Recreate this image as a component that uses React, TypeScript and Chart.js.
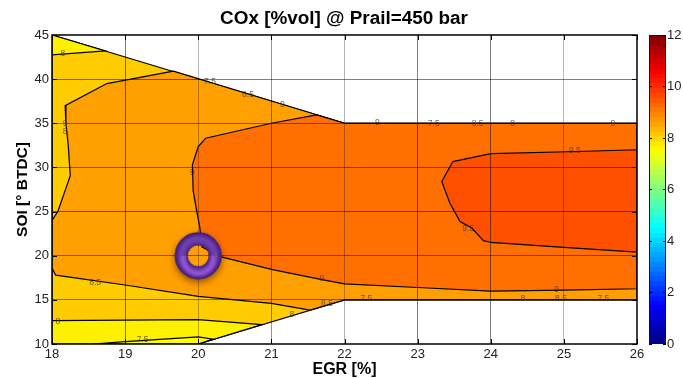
import React, { useEffect, useRef } from "react";
import { Chart, registerables } from "chart.js";

Chart.register(...registerables);

const FONT = "'Liberation Sans', Arial, sans-serif";

const titleText = "COx [%vol] @ Prail=450 bar";
const xTitle = "EGR [%]";
const yTitle = "SOI [° BTDC]";

// Contour regions, painted in this order: [EGR, SOI]
const domainRegion = [[18, 45], [22, 35], [26, 35], [26, 15], [22, 15], [20, 10], [18, 10], [18, 45]];
const yellowTop = [[18, 45], [18.73, 43.19], [18, 42.74], [18, 45]];
const yellowBottom = [[18, 12.65], [19, 12.7], [20, 12.75], [20.87, 12.2], [20, 10], [18, 10], [18, 12.65]];
const lightBottom = [[18.56, 10], [19, 10.26], [20, 10.8], [20.2, 10.55], [20, 10], [18.56, 10]];
const orangeRegion = [
  [19.66, 40.9], [18.75, 39.5], [18.18, 37], [18.19, 35], [18.22, 32.7], [18.25, 29.07], [18.08, 25], [18, 24],
  [18, 18.6], [18.05, 17.8], [19, 16.68], [20, 15.4], [21, 14.6], [21.53, 13.83], [22, 15], [26, 15], [26, 35], [22, 35], [19.66, 40.9],
];
const deepOrangeRegion = [
  [21.62, 35.95], [21, 35], [20.1, 33.3], [20, 32.35], [19.92, 30.3], [19.93, 27.4], [19.98, 25], [20.02, 23.3], [20.05, 21],
  [20.3, 19.9], [21, 18.45], [21.69, 17.3], [22, 16.8], [23, 16.4], [24, 16], [25, 16.1], [26, 16.26], [26, 35], [22, 35], [21.62, 35.95],
];
const redOrangeRegion = [
  [23.48, 30.65], [24, 31.56], [25.18, 31.8], [26, 32], [26, 20.4], [25, 20.95], [24, 21.5], [23.9, 21.7], [23.74, 23.14],
  [23.58, 23.86], [23.44, 25.97], [23.33, 28.4], [23.48, 30.65],
];

const regionList = [domainRegion, yellowTop, yellowBottom, lightBottom, orangeRegion, deepOrangeRegion, redOrangeRegion];
const regionColors = ["#FFCC00", "#FFF000", "#FFF000", "#FFFF00", "#FF9F00", "#FF7000", "#FF5000"];

// Inline contour labels
const labelEgr = [18.15, 20.16, 20.68, 21.15, 18.18, 18.18, 19.92, 18.59, 18.08, 19.24, 21.69, 21.28, 21.76, 22.3, 24.44, 24.96, 25.54, 24.9, 22.45, 23.22, 23.82, 24.3, 25.67, 25.15, 23.69];
const labelSoi = [42.85, 39.7, 38.2, 37.1, 34.9, 34.1, 29.4, 17, 12.5, 10.45, 17.37, 13.3, 14.55, 15.1, 15.1, 15.1, 15.1, 16.1, 35.03, 35, 35, 35, 35, 31.9, 23.1];
const labelText = ["8", "7.5", "8.5", "9", "9", "8", "9", "8.5", "8", "7.5", "9", "8", "8.5", "7.5", "8", "8.5", "7.5", "9", "9", "7.5", "8.5", "8", "9", "9.5", "9.5"];

const markerPoint = [[20, 20]];

const xGridAlpha = [0, 0.5, 0.28, 0.42, 0.3, 0.5, 0.5, 0.28, 0];
const yGridAlpha = [0, 0.45, 0.45, 0.5, 0.45, 0.45, 0.5, 0];

const colorbarRange = [0, 12];

function makeTorus(): HTMLCanvasElement {
  const c = document.createElement("canvas");
  c.width = 70;
  c.height = 70;
  const g = c.getContext("2d")!;
  const cx = 35, cy = 35, R = 23.5, r = 10.5;
  const ring = () => {
    g.beginPath();
    g.arc(cx, cy, R, 0, Math.PI * 2);
    g.arc(cx, cy, r, 0, Math.PI * 2, true);
  };
  g.save();
  g.beginPath();
  g.rect(0, 0, 70, 70);
  g.arc(cx, cy, r, 0, Math.PI * 2, true);
  g.clip();
  g.shadowColor = "rgba(70,30,0,0.6)";
  g.shadowBlur = 7;
  g.shadowOffsetY = 3;
  g.fillStyle = "#5a2f96";
  ring();
  g.fill();
  g.restore();
  const main = g.createRadialGradient(cx, cy, r, cx, cy, R);
  main.addColorStop(0, "#44207f");
  main.addColorStop(0.28, "#6b3aa8");
  main.addColorStop(0.55, "#7142b0");
  main.addColorStop(0.82, "#52288f");
  main.addColorStop(1, "#3a1a70");
  g.fillStyle = main;
  ring();
  g.fill();
  g.save();
  ring();
  g.clip();
  const hi = g.createRadialGradient(cx, cy + 3, r, cx, cy + 3, r + 9);
  hi.addColorStop(0, "rgba(176,100,240,0)");
  hi.addColorStop(0.45, "rgba(176,100,240,0.6)");
  hi.addColorStop(1, "rgba(176,100,240,0)");
  g.fillStyle = hi;
  g.fillRect(cx - R, cy, 2 * R, R + 2);
  g.restore();
  return c;
}

const polygonFill = {
  id: "polygonFill",
  beforeDatasetDraw(chart: any, args: any) {
    const ds = chart.data.datasets[args.index];
    if (!ds.polygon) return;
    const pts = args.meta.data;
    const a = chart.chartArea;
    const ctx = chart.ctx;
    ctx.save();
    ctx.beginPath();
    ctx.rect(a.left, a.top, a.width, a.height);
    ctx.clip();
    ctx.beginPath();
    pts.forEach((p: any, i: number) => (i ? ctx.lineTo(p.x, p.y) : ctx.moveTo(p.x, p.y)));
    ctx.closePath();
    ctx.fillStyle = ds.polygonColor;
    ctx.fill();
    ctx.restore();
  },
};

const overlay = {
  id: "overlay",
  afterDraw(chart: any) {
    const { ctx, chartArea: a, scales } = chart;
    ctx.save();
    // contour labels
    ctx.font = `8.5px ${FONT}`;
    ctx.fillStyle = "rgba(60,50,30,0.75)";
    ctx.textAlign = "center";
    ctx.textBaseline = "middle";
    labelText.forEach((t, i) => {
      ctx.fillText(t, scales.x.getPixelForValue(labelEgr[i]), scales.y.getPixelForValue(labelSoi[i]));
    });
    // inner ticks
    ctx.strokeStyle = "#000";
    ctx.lineWidth = 1;
    ctx.beginPath();
    scales.x.ticks.forEach((t: any) => {
      const x = Math.round(scales.x.getPixelForValue(t.value)) + 0.5;
      ctx.moveTo(x, a.bottom);
      ctx.lineTo(x, a.bottom - 5);
      ctx.moveTo(x, a.top);
      ctx.lineTo(x, a.top + 5);
    });
    scales.y.ticks.forEach((t: any) => {
      const y = Math.round(scales.y.getPixelForValue(t.value)) + 0.5;
      ctx.moveTo(a.left, y);
      ctx.lineTo(a.left + 5, y);
      ctx.moveTo(a.right, y);
      ctx.lineTo(a.right - 5, y);
    });
    ctx.stroke();
    // frame
    ctx.lineWidth = 1.5;
    ctx.strokeRect(a.left, a.top, a.width, a.height);
    // marker
    const meta = chart.getDatasetMeta(chart.data.datasets.length - 1);
    const p = meta.data[0];
    const img = chart.$torus;
    if (img && p) ctx.drawImage(img, p.x - 35, p.y - 35);
    ctx.restore();
  },
};

const barFrame = {
  id: "barFrame",
  afterDraw(chart: any) {
    const { ctx, chartArea: a } = chart;
    ctx.save();
    ctx.strokeStyle = "#111";
    ctx.lineWidth = 1;
    ctx.strokeRect(a.left + 0.5, a.top + 0.5, a.width - 1, a.height - 1);
    ctx.restore();
  },
};

function jetGradient(ctx: CanvasRenderingContext2D, top: number, bottom: number) {
  const grad = ctx.createLinearGradient(0, bottom, 0, top);
  const clip = (v: number) => Math.round(255 * Math.max(0, Math.min(1, v)));
  const levels = 64;
  for (let i = 0; i < levels; i++) {
    const t = (i + 0.5) / levels;
    const col = `rgb(${clip(1.5 - Math.abs(4 * t - 3))},${clip(1.5 - Math.abs(4 * t - 2))},${clip(1.5 - Math.abs(4 * t - 1))})`;
    grad.addColorStop(i / levels, col);
    grad.addColorStop((i + 1) / levels, col);
  }
  return grad;
}

export default function App() {
  const mainRef = useRef<HTMLCanvasElement>(null);
  const barRef = useRef<HTMLCanvasElement>(null);

  useEffect(() => {
    const n = regionList.length;
    const regionSets = regionList.map((pts, i) => ({
      type: "scatter" as const,
      data: pts.map(([x, y]) => ({ x, y })),
      showLine: true,
      polygon: true,
      polygonColor: regionColors[i],
      borderColor: "#000",
      borderWidth: 1.2,
      tension: 0,
      pointRadius: 0,
      fill: false,
      order: n - i + 1,
    }));
    const main = new Chart(mainRef.current!, {
      type: "scatter",
      data: {
        datasets: [
          ...regionSets,
          {
            data: markerPoint.map(([x, y]) => ({ x, y })),
            pointRadius: 0,
            showLine: false,
            order: 0,
          },
        ] as any,
      },
      options: {
        responsive: false,
        animation: false,
        layout: { padding: { left: 5, right: 0, top: 0, bottom: 0 } },
        plugins: {
          legend: { display: false },
          tooltip: { enabled: false },
          title: {
            display: true,
            text: titleText,
            color: "#000",
            font: { family: FONT, size: 18.9, weight: "bold", lineHeight: 1.2 },
            padding: { top: 7, bottom: 5.3 },
          },
        },
        scales: {
          x: {
            type: "linear",
            min: 18,
            max: 26,
            afterFit: (s: any) => { s.height = 34; },
            afterBuildTicks: (s: any) => { s.ticks = [18, 19, 20, 21, 22, 23, 24, 25, 26].map((value) => ({ value })); },
            border: { display: false },
            grid: {
              z: 1,
              drawTicks: false,
              color: (c: any) => `rgba(0,0,0,${xGridAlpha[c.index] ?? 0})`,
            },
            ticks: { color: "#222", font: { family: FONT, size: 13 }, padding: 3, maxRotation: 0, autoSkip: false },
            title: {
              display: true,
              text: xTitle,
              color: "#000",
              font: { family: FONT, size: 16, weight: "bold", lineHeight: 1 },
              padding: { top: 0, bottom: 0 },
            },
          },
          y: {
            type: "linear",
            min: 10,
            max: 45,
            afterFit: (s: any) => { s.width = 47; },
            afterBuildTicks: (s: any) => { s.ticks = [10, 15, 20, 25, 30, 35, 40, 45].map((value) => ({ value })); },
            border: { display: false },
            grid: {
              z: 1,
              drawTicks: false,
              color: (c: any) => `rgba(0,0,0,${yGridAlpha[c.index] ?? 0})`,
            },
            ticks: { color: "#222", font: { family: FONT, size: 13 }, padding: 3, autoSkip: false },
            title: {
              display: true,
              text: yTitle,
              color: "#000",
              font: { family: FONT, size: 15.5, weight: "bold", lineHeight: 1 },
              padding: { top: 10, bottom: 0 },
            },
          },
          spacer: {
            type: "linear",
            position: "right",
            afterFit: (s: any) => { s.width = 46; },
            grid: { display: false },
            border: { display: false },
            ticks: { display: false },
          },
        },
      },
      plugins: [polygonFill, overlay],
    } as any);
    (main as any).$torus = makeTorus();
    main.draw();

    const bar = new Chart(barRef.current!, {
      type: "bar",
      data: {
        labels: ["COx"],
        datasets: [
          {
            data: [colorbarRange],
            barPercentage: 1,
            categoryPercentage: 1,
            backgroundColor: (c: any) => {
              const a = c.chart.chartArea;
              return a ? jetGradient(c.chart.ctx, a.top, a.bottom) : "#000";
            },
          },
        ],
      },
      options: {
        responsive: false,
        animation: false,
        layout: { padding: { left: 9, right: 0, top: 35, bottom: 34 } },
        plugins: { legend: { display: false }, tooltip: { enabled: false } },
        scales: {
          x: { display: false },
          y: {
            position: "right",
            min: 0,
            max: 12,
            afterFit: (s: any) => { s.width = 17; },
            afterBuildTicks: (s: any) => { s.ticks = [0, 2, 4, 6, 8, 10, 12].map((value) => ({ value })); },
            border: { display: false, dash: [3, 11] },
            grid: { z: 1, drawTicks: false, color: "#000" },
            ticks: { color: "#222", font: { family: FONT, size: 13 }, padding: 1, autoSkip: false },
          },
        },
      },
      plugins: [barFrame],
    } as any);

    return () => {
      main.destroy();
      bar.destroy();
    };
  }, []);

  return (
    <div style={{ position: "absolute", left: 0, top: 0, width: 683, height: 378, background: "#fff", overflow: "hidden" }}>
      <canvas ref={mainRef} width={683} height={378} style={{ position: "absolute", left: 0, top: 0 }} />
      <canvas ref={barRef} width={43} height={378} style={{ position: "absolute", left: 640, top: 0 }} />
    </div>
  );
}
